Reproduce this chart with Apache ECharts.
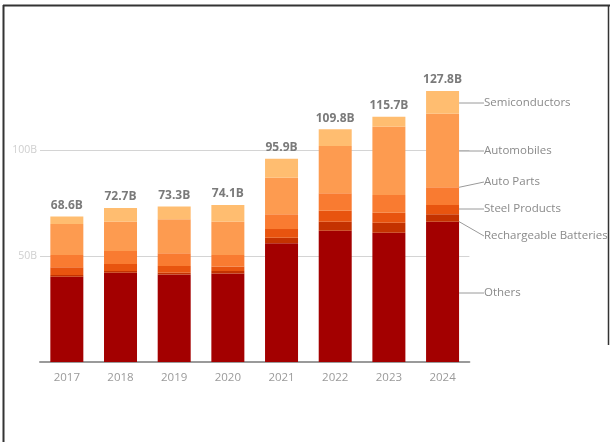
<!DOCTYPE html>
<html><head><meta charset="utf-8">
<script src="https://cdn.jsdelivr.net/npm/echarts@6/dist/echarts.min.js"></script>
<style>html,body{margin:0;padding:0;background:#fff}#c{width:610px;height:442px}</style>
</head><body><div id="c"></div>
<script>
var years = ['2017','2018','2019','2020','2021','2022','2023','2024'];
var others      = [40.2, 42.1, 41.3, 41.8, 56.0, 61.9, 61.0, 66.2];
var batteries   = [0.8, 0.8, 0.8, 1.1, 2.6, 4.3, 4.7, 3.5];
var steel       = [3.7, 3.3, 3.2, 2.1, 4.1, 5.2, 4.7, 4.4];
var autoParts   = [5.8, 6.2, 6.0, 5.5, 7.0, 8.2, 8.4, 8.3];
var automobiles = [14.6, 13.8, 16.0, 15.7, 17.2, 22.3, 32.2, 34.7];
var semis       = [3.5, 6.5, 6.0, 7.9, 9.0, 7.9, 4.7, 10.7];
var totals      = [68.6, 72.7, 73.3, 74.1, 95.9, 109.8, 115.7, 127.8];
var yTicks = [50, 100];

var FONT = 'Open Sans';
var chart = echarts.init(document.getElementById('c'));
var seriesDefs = [
  {name:'Others', data: others, color:'#A30000', ly:293},
  {name:'Rechargeable Batteries', data: batteries, color:'#C43200', ly:236},
  {name:'Steel Products', data: steel, color:'#E8540F', ly:209},
  {name:'Auto Parts', data: autoParts, color:'#F97B31', ly:182},
  {name:'Automobiles', data: automobiles, color:'#FD9B50', ly:151},
  {name:'Semiconductors', data: semis, color:'#FFBD70', ly:103}
];
var last = years.length - 1;
var series = seriesDefs.map(function(s){
  return {
    name: s.name, type:'bar', stack:'t', barWidth: 33,
    itemStyle:{color:s.color},
    data: s.data.map(function(v,i){
      var d = {value:v};
      if (i === last) {
        d.label = {show:true, position:'right', formatter: s.name, color:'#8a8a8a', fontSize:11.5, fontFamily:FONT, padding:[0,0,0,4]};
        d.labelLine = {show:true, lineStyle:{color:'#9a9a9a', width:1}};
      }
      return d;
    }),
    labelLayout: (function(ly){ return function(p){ return {x:480, y:ly, align:'left', verticalAlign:'middle'}; }; })(s.ly),
    labelLine: {show:true, length2:0, smooth:false, lineStyle:{color:'#9a9a9a', width:1}},
    z: 3
  };
});
series.push({
  name:'Total', type:'bar', stack:'t', barWidth:33,
  data: totals.map(function(){ return 0; }),
  label:{show:true, position:'top', distance:5, color:'#7a7a7a', fontWeight:'bold', fontSize:12, fontFamily:FONT,
    formatter:function(p){ return totals[p.dataIndex].toFixed(1) + 'B'; }},
  markLine:{silent:true, symbol:'none', label:{show:false}, z:1,
    lineStyle:{color:'#d4d4d4', type:'solid', width:1},
    data: yTicks.map(function(v){ return {yAxis:v}; })},
  z: 2
});

chart.setOption({
  animation:false,
  textStyle:{fontFamily:FONT},
  grid:{left:40, top:44, width:429.4, bottom:80, containLabel:false},
  xAxis:{type:'category', data: years,
    axisLine:{lineStyle:{color:'#9a9a9a', width:2}},
    axisTick:{show:false},
    axisLabel:{color:'#9a9a9a', fontSize:11.5, margin:10, fontFamily:FONT}},
  yAxis:{type:'value', min:0, max:150, interval:50,
    splitLine:{show:false}, axisLine:{show:false}, axisTick:{show:false},
    axisLabel:{color:'#cfcfcf', fontSize:10.5, margin:3, fontFamily:FONT,
      formatter:function(v){ return (v===50||v===100) ? v+'B' : ''; }}},
  series: series,
  graphic:[
    {type:'line', shape:{x1:3, y1:5.5, x2:610, y2:5.5}, style:{stroke:'#333', lineWidth:2}, silent:true},
    {type:'line', shape:{x1:3.5, y1:5, x2:3.5, y2:442}, style:{stroke:'#333', lineWidth:2}, silent:true},
    {type:'line', shape:{x1:608.5, y1:5, x2:608.5, y2:345}, style:{stroke:'#333', lineWidth:1.5}, silent:true}
  ]
});
</script></body></html>
